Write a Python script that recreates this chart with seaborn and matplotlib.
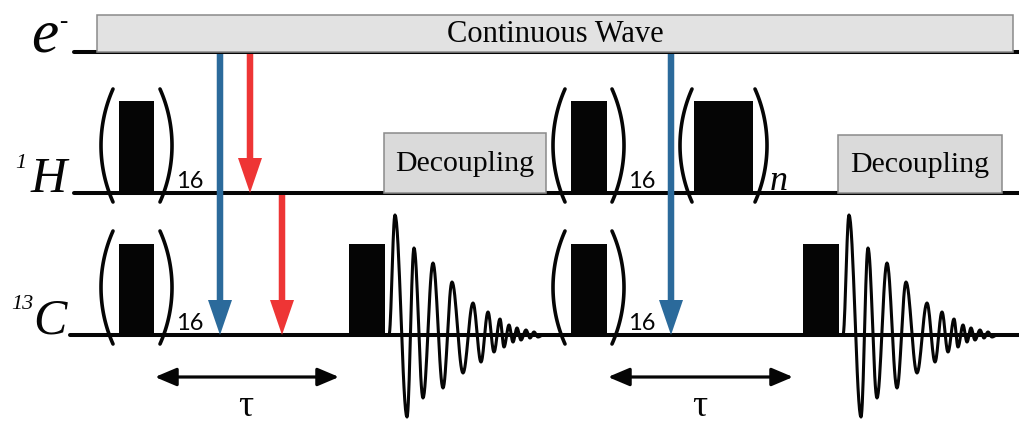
import numpy as np
import pandas as pd
import matplotlib
matplotlib.use("Agg")
import matplotlib.pyplot as plt
import seaborn as sns
from matplotlib.patches import Rectangle, FancyArrowPatch

# ---------------- data ----------------
channel_label = ["e", "H", "C"]
channel_sup = ["-", "1", "13"]
channel_y = [52, 193, 335]
channel_x0 = [74, 74, 70]

cw_text = "Continuous Wave"
cw_x = [97, 1013]
cw_top = 15

dec_text = "Decoupling"
dec_x0 = [384, 838]
dec_x1 = [546, 1002]
dec_top = [133, 135]

pulse_H_x0 = [119, 571, 694]
pulse_H_x1 = [154, 607, 753]
pulse_H_top = 101
pulse_C_x0 = [119, 349, 571, 803]
pulse_C_x1 = [154, 385, 607, 839]
pulse_C_top = 244

paren_x0 = [113, 113, 565, 565, 692]
paren_x1 = [160, 160, 612, 612, 755]
paren_line = [193, 335, 193, 335, 193]
paren_count = ["16", "16", "16", "16", "n"]

arrow_x = [220, 250, 282, 671]
arrow_y0 = [54, 54, 195, 54]
arrow_y1 = [335, 193, 335, 335]
arrow_kind = ["blue", "red", "red", "blue"]

tau_x0 = [155, 608]
tau_x1 = [339, 793]
tau_y = 377

fid_start = [385, 839]
fid_dx = [4, 10, 22, 29, 38, 48, 58, 67, 78, 88, 96, 103, 109, 115, 119, 124,
          128, 132, 136, 141, 145, 149, 153, 158]
fid_amp = [0, 120, -82, 87, -63, 72, -53, 53, -38, 32, -27, 23, -17, 16, -12,
           10, -7, 7, -5, 5, -3, 3, -2, 0]

# ---------------- style ----------------
sns.set_theme(style="white")
plt.rcParams["font.family"] = ["Liberation Serif", "DejaVu Serif"]

colors = {"blue": "#2b6a9b", "red": "#ee3535"}
ink = "#050505"

fig = plt.figure(figsize=(10.2, 4.25), dpi=100)
ax = fig.add_axes([0, 0, 1, 1])
ax.set_xlim(0, 1020)
ax.set_ylim(425, 0)
ax.axis("off")

# channel lines
for y, x0 in zip(channel_y, channel_x0):
    sns.lineplot(x=[x0, 1020], y=[y, y], ax=ax, color=ink, lw=2.9, zorder=2,
                 sort=False, estimator=None)

# channel labels
lab_x = [58, 67, 67]
lab_fs = [44, 36, 36]
for lab, x, y, fs in zip(channel_label, lab_x, channel_y, lab_fs):
    ax.text(x, y - 1, lab, fontsize=fs, style="italic", ha="right",
            va="baseline", color=ink)
ax.text(63.5, 22, channel_sup[0], fontsize=18, ha="center", va="center",
        color=ink)
ax.text(26, 154, channel_sup[1], fontsize=16, style="italic", ha="right",
        va="top", color=ink)
ax.text(33, 295, channel_sup[2], fontsize=16, style="italic", ha="right",
        va="top", color=ink)

# continuous wave box
ax.add_patch(Rectangle((cw_x[0], cw_top), cw_x[1] - cw_x[0],
                       channel_y[0] - cw_top, facecolor="#e2e2e2",
                       edgecolor="#8a8a8a", lw=1.1, zorder=3))
ax.text((cw_x[0] + cw_x[1]) / 2, (cw_top + channel_y[0]) / 2 + 1, cw_text,
        fontsize=22, ha="center", va="center", color=ink, zorder=4)

# decoupling boxes
for x0, x1, top in zip(dec_x0, dec_x1, dec_top):
    ax.add_patch(Rectangle((x0, top), x1 - x0, channel_y[1] - top,
                           facecolor="#dadada", edgecolor="#8a8a8a", lw=1.1,
                           zorder=3))
    ax.text((x0 + x1) / 2, (top + channel_y[1]) / 2 + 1, dec_text, fontsize=21.5,
            ha="center", va="center", color=ink, zorder=4)

# pulses (bars)
ax.bar(pulse_H_x0, [pulse_H_top - channel_y[1]] * len(pulse_H_x0),
       width=np.array(pulse_H_x1) - np.array(pulse_H_x0), bottom=channel_y[1],
       align="edge", color=ink, lw=0, zorder=4)
ax.bar(pulse_C_x0, [pulse_C_top - channel_y[2]] * len(pulse_C_x0),
       width=np.array(pulse_C_x1) - np.array(pulse_C_x0), bottom=channel_y[2],
       align="edge", color=ink, lw=0, zorder=4)

# parentheses
bulge = 12
for x0, x1, ly, cnt in zip(paren_x0, paren_x1, paren_line, paren_count):
    top, bot = ly - 104, ly + 9
    h = bot - top
    R = (h * h / 4 + bulge * bulge) / (2 * bulge)
    th = np.arcsin((h / 2) / R)
    t = np.linspace(-th, th, 60)
    ym = (top + bot) / 2
    xl = x0 - bulge + R - R * np.cos(t)
    xr = x1 + bulge - R + R * np.cos(t)
    yy = ym + R * np.sin(t)
    ax.plot(xl, yy, color=ink, lw=2.6, solid_capstyle="round", zorder=4)
    ax.plot(xr, yy, color=ink, lw=2.6, solid_capstyle="round", zorder=4)
    if cnt == "n":
        ax.text(x1 + 15, ly - 3, cnt, fontsize=26, style="italic", ha="left",
                va="baseline", color=ink, zorder=4)
    else:
        ax.text(x1 + 16, ly - 5, cnt, fontsize=17, family=["Lato", "DejaVu Sans"],
                ha="left", va="baseline", color=ink, zorder=4)

# transfer arrows
for x, y0, y1, k in zip(arrow_x, arrow_y0, arrow_y1, arrow_kind):
    ax.arrow(x, y0, 0, y1 - y0, width=6.5, head_width=24, head_length=35,
             length_includes_head=True, color=colors[k], lw=0, zorder=5)

# tau arrows
for x0, x1 in zip(tau_x0, tau_x1):
    ax.add_patch(FancyArrowPatch((x0, tau_y), (x1, tau_y),
                                 arrowstyle="<|-|>,head_length=1.3,head_width=0.55",
                                 mutation_scale=10, lw=2.3, color=ink,
                                 shrinkA=0, shrinkB=0, zorder=4))
    ax.text((x0 + x1) / 2 - 1, 424.5, "τ", fontsize=27, ha="center",
            va="bottom", color=ink)

# FIDs
dx = np.array(fid_dx, dtype=float)
amp = np.array(fid_amp, dtype=float)
for xs in fid_start:
    px, py = [], []
    for i in range(len(dx) - 1):
        tt = np.linspace(0, 1, 16, endpoint=False)
        px.append(xs + dx[i] + (dx[i + 1] - dx[i]) * tt)
        py.append(amp[i] + (amp[i + 1] - amp[i]) * (1 - np.cos(np.pi * tt)) / 2)
    px.append([xs + dx[-1]])
    py.append([amp[-1]])
    fid = pd.DataFrame({"x": np.concatenate(px),
                        "y": channel_y[2] - np.concatenate(py)})
    sns.lineplot(data=fid, x="x", y="y", ax=ax, color=ink, lw=2.2, sort=False,
                 estimator=None, zorder=4)

ax.set_xlim(0, 1020)
ax.set_ylim(425, 0)
ax.axis("off")
fig.savefig("out.png", dpi=100)
